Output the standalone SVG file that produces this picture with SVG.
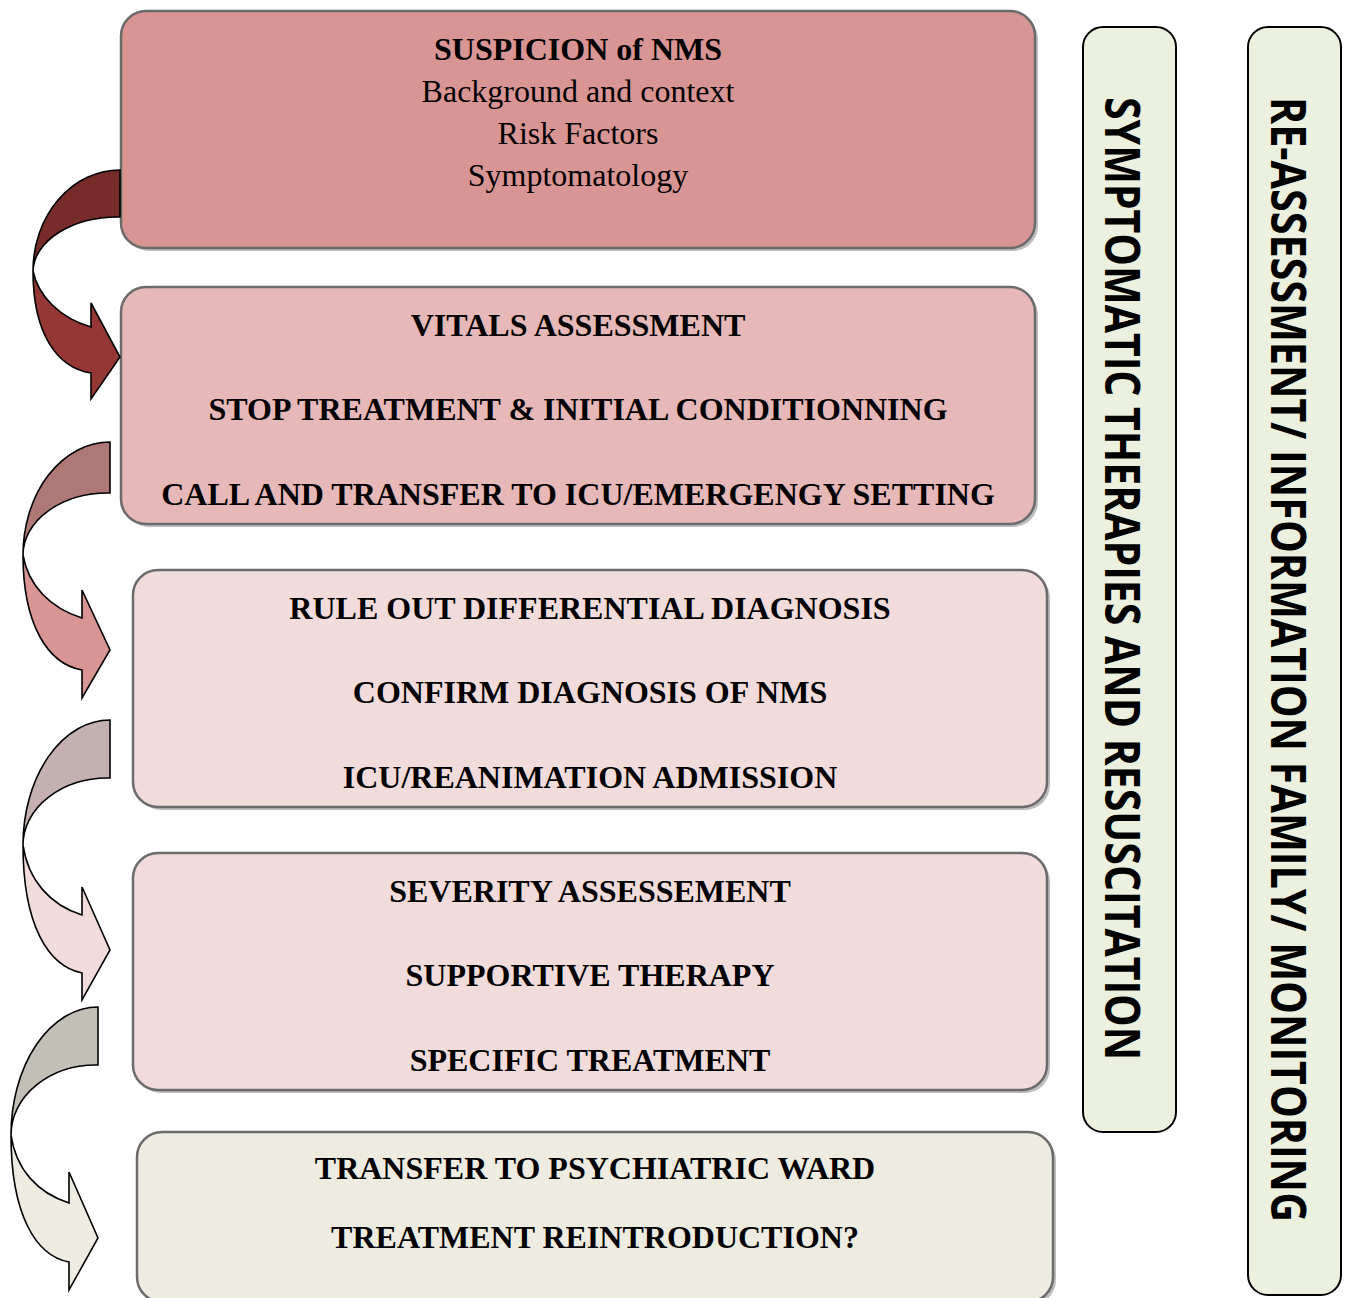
<svg xmlns="http://www.w3.org/2000/svg" width="1347" height="1298" viewBox="0 0 1347 1298">
<defs>
<style>
.box{stroke:#6b6b6b;stroke-width:2.5}
.shadow{fill:#bdbdbd}
.bar{fill:#ebf1de;stroke:#000;stroke-width:2}
.t{font-family:"Liberation Serif","Times New Roman",serif;font-size:32px;font-weight:bold;fill:#000;text-anchor:middle}
.r{font-family:"Liberation Serif","Times New Roman",serif;font-size:32px;fill:#000;text-anchor:middle}
.v{font-family:"Open Sans","DejaVu Sans",sans-serif;font-size:48px;font-weight:bold;fill:#000}
.ar{stroke:#000;stroke-width:1.6;stroke-linejoin:miter}
</style>
</defs>
<rect width="1347" height="1298" fill="#fff"/>

<g id="node-suspicion">
<rect class="shadow" x="124" y="14" width="914" height="237" rx="25"/>
<rect class="box" x="121" y="11" width="914" height="237" rx="25" fill="#d99594"/>
<text class="t" x="578" y="60">SUSPICION of NMS</text>
<text class="r" x="578" y="102">Background and context</text>
<text class="r" x="578" y="144">Risk Factors</text>
<text class="r" x="578" y="186">Symptomatology</text>
</g>

<g id="node-vitals">
<rect class="shadow" x="124" y="290" width="914" height="237" rx="25"/>
<rect class="box" x="121" y="287" width="914" height="237" rx="25" fill="#e6b8b7"/>
<text class="t" x="578" y="336">VITALS ASSESSMENT</text>
<text class="t" x="578" y="420">STOP TREATMENT &amp; INITIAL CONDITIONNING</text>
<text class="t" x="578" y="505">CALL AND TRANSFER TO ICU/EMERGENGY SETTING</text>
</g>

<g id="node-diagnosis">
<rect class="shadow" x="136" y="573" width="914" height="237" rx="25"/>
<rect class="box" x="133" y="570" width="914" height="237" rx="25" fill="#f2dcdb"/>
<text class="t" x="590" y="619">RULE OUT DIFFERENTIAL DIAGNOSIS</text>
<text class="t" x="590" y="703">CONFIRM DIAGNOSIS OF NMS</text>
<text class="t" x="590" y="788">ICU/REANIMATION ADMISSION</text>
</g>

<g id="node-severity">
<rect class="shadow" x="136" y="856" width="914" height="237" rx="25"/>
<rect class="box" x="133" y="853" width="914" height="237" rx="25" fill="#f2dcdb"/>
<text class="t" x="590" y="902">SEVERITY ASSESSEMENT</text>
<text class="t" x="590" y="986">SUPPORTIVE THERAPY</text>
<text class="t" x="590" y="1071">SPECIFIC TREATMENT</text>
</g>

<g id="node-transfer">
<rect class="shadow" x="140" y="1135" width="916" height="170" rx="25"/>
<rect class="box" x="137" y="1132" width="916" height="170" rx="25" fill="#eeece1"/>
<text class="t" x="595" y="1179">TRANSFER TO PSYCHIATRIC WARD</text>
<text class="t" x="595" y="1248">TREATMENT REINTRODUCTION?</text>
</g>

<g id="node-symptomatic">
<rect class="bar" x="1083" y="27" width="93" height="1105" rx="20"/>
<text class="v" transform="translate(1105,97) rotate(90)" textLength="963" lengthAdjust="spacingAndGlyphs">SYMPTOMATIC THERAPIES AND RESUSCITATION</text>
</g>

<g id="node-reassessment">
<rect class="bar" x="1248" y="27" width="93" height="1268" rx="20"/>
<text class="v" transform="translate(1271,97) rotate(90)" textLength="1125" lengthAdjust="spacingAndGlyphs">RE-ASSESSMENT/ INFORMATION FAMILY/ MONITORING</text>
</g>

<g id="connectors">
<path class="ar" fill="#772c2a" d="M120,170 A87,101 0 0 0 33,271 A85,55 0 0 1 120,217 Z"/>
<path class="ar" fill="#953735" d="M33,271 C38,296 60,318 91,327 L91,303 L120,357 L91,399 L91,373 C58,368 33,335 33,271 Z"/>
<path class="ar" fill="#ae7877" d="M110,442 A87,113 0 0 0 23,555 A85,62 0 0 1 110,493 Z"/>
<path class="ar" fill="#d99594" d="M23,555 C28,585 50,608 82,618 L82,590 L110,650 L82,698 L82,670 C48,664 23,625 23,555 Z"/>
<path class="ar" fill="#c4b0b0" d="M110,720 A87,125 0 0 0 23,845 A85,67 0 0 1 110,778 Z"/>
<path class="ar" fill="#f2dcdb" d="M23,845 C28,880 50,905 82,915 L82,887 L110,950 L82,1000 L82,973 C48,966 23,925 23,845 Z"/>
<path class="ar" fill="#c2c0b6" d="M98,1007 A87,128 0 0 0 11,1135 A85,70 0 0 1 98,1065 Z"/>
<path class="ar" fill="#eeece1" d="M11,1135 C16,1170 38,1193 69,1203 L69,1172 L98,1238 L69,1290 L69,1262 C36,1256 11,1215 11,1135 Z"/>
</g>
</svg>
